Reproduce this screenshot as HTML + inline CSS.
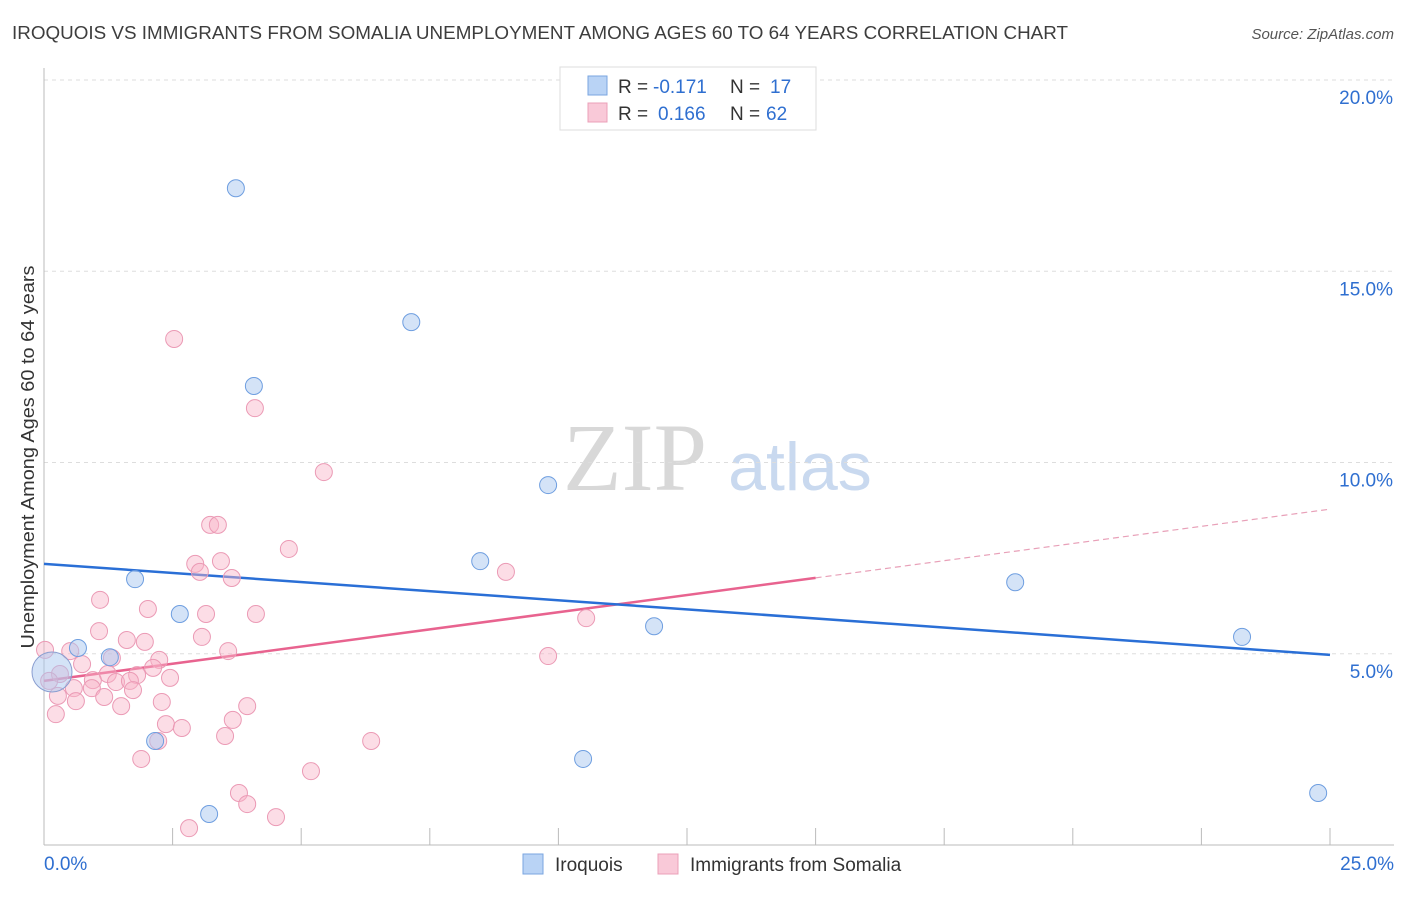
<!DOCTYPE html>
<html><head><meta charset="utf-8"><style>
body{margin:0;background:#fff;font-family:"Liberation Sans",sans-serif}
</style></head><body>
<svg width="1406" height="892" xmlns="http://www.w3.org/2000/svg">
<text x="12" y="39" font-size="18" fill="#3d3d3d" textLength="1056" lengthAdjust="spacingAndGlyphs">IROQUOIS VS IMMIGRANTS FROM SOMALIA UNEMPLOYMENT AMONG AGES 60 TO 64 YEARS CORRELATION CHART</text>
<text x="1394" y="39" font-size="15" fill="#555" text-anchor="end" font-style="italic">Source: ZipAtlas.com</text>
<text x="635" y="490" font-size="96" fill="#d8d8d8" text-anchor="middle" font-family="Liberation Serif,serif">ZIP</text>
<text x="800" y="490" font-size="68" fill="#c9d9ef" text-anchor="middle">atlas</text>
<g id="grid"></g><g id="axes"></g><g id="lines"></g><g id="pts"></g>
<text transform="translate(34,457) rotate(-90)" font-size="18" fill="#333" text-anchor="middle" textLength="383" lengthAdjust="spacingAndGlyphs">Unemployment Among Ages 60 to 64 years</text>
<g>
<rect x="560" y="67" width="256" height="63" fill="#fff" stroke="#ddd"/>
<rect x="588" y="76" width="19" height="19" fill="#b9d3f5" stroke="#7aa6e0"/>
<rect x="588" y="103" width="19" height="19" fill="#f9c9d8" stroke="#eba0b8"/>
<text x="618" y="93" font-size="19" fill="#333">R =</text>
<text x="653" y="93" font-size="19" fill="#2f6fd0">-0.171</text>
<text x="730" y="93" font-size="19" fill="#333">N =</text>
<text x="770" y="93" font-size="19" fill="#2f6fd0">17</text>
<text x="618" y="120" font-size="19" fill="#333">R =</text>
<text x="658" y="120" font-size="19" fill="#2f6fd0">0.166</text>
<text x="730" y="120" font-size="19" fill="#333">N =</text>
<text x="766" y="120" font-size="19" fill="#2f6fd0">62</text>
</g>
<g>
<rect x="523" y="854" width="20" height="20" fill="#b9d3f5" stroke="#7aa6e0"/>
<text x="555" y="871" font-size="19" fill="#333">Iroquois</text>
<rect x="658" y="854" width="20" height="20" fill="#f9c9d8" stroke="#eba0b8"/>
<text x="690" y="871" font-size="19" fill="#333">Immigrants from Somalia</text>
</g>
</svg>
<script>
const yTicks=[5,10,15,20];
const xTickLabels=["0.0%","25.0%"];
const iroX=[3.73,7.14,4.08,9.80,8.48,1.77,2.64,11.86,18.88,23.29,0.66,1.28,2.16,10.48,3.21,24.77];
const iroY=[17.17,13.67,12.0,9.41,7.42,6.95,6.04,5.72,6.87,5.44,5.15,4.91,2.72,2.25,0.81,1.36];
const somX=[2.53,4.10,5.44,3.23,3.38,4.76,2.94,3.44,3.03,3.65,8.98,1.09,2.02,3.15,4.12,10.54,1.07,1.61,1.96,3.07,3.58,9.80,0.02,0.51,1.32,2.24,0.74,2.12,0.31,1.24,1.81,2.45,0.10,0.95,1.40,1.67,0.58,0.93,1.73,0.27,1.17,0.62,2.29,3.95,1.50,0.23,3.67,2.37,2.68,3.52,6.36,1.89,5.19,3.79,3.95,4.51,2.82,2.22];
const somY=[13.23,11.42,9.75,8.37,8.37,7.74,7.35,7.42,7.14,6.98,7.14,6.41,6.17,6.04,6.04,5.93,5.59,5.36,5.31,5.44,5.07,4.94,5.10,5.07,4.89,4.84,4.73,4.63,4.47,4.47,4.44,4.37,4.29,4.31,4.26,4.29,4.10,4.10,4.05,3.90,3.87,3.76,3.74,3.63,3.63,3.42,3.27,3.16,3.06,2.85,2.72,2.25,1.93,1.36,1.07,0.73,0.44,2.72];
const iroTrend=[7.35,4.97];
const somTrend=[4.29,8.78];
const somSolidEnd=15;
const NS="http://www.w3.org/2000/svg";
const X=v=>44+v/25*1286, Y=v=>845-v/20*765;
function mk(t,a,p){const e=document.createElementNS(NS,t);for(const k in a)e.setAttribute(k,a[k]);document.getElementById(p).appendChild(e);return e;}
yTicks.forEach(t=>{
 const l=mk('line',{x1:44,x2:1394,y1:Y(t),y2:Y(t),stroke:'#ddd','stroke-dasharray':'4,4'},'grid');
 
 
 const tx=mk('text',{x:1393,y:Y(t)+24,'font-size':19,fill:'#2f6fd0','text-anchor':'end'},'grid');
 tx.textContent=t.toFixed(1)+'%';
 
 
});
mk('line',{x1:44,x2:44,y1:68,y2:845,stroke:'#bbb'},'axes');
mk('line',{x1:44,x2:1394,y1:845,y2:845,stroke:'#bbb'},'axes');
for(let i=0;i<=10;i++){const l=mk('line',{x1:X(i*2.5),x2:X(i*2.5),y1:828,y2:845,stroke:'#bbb'},'axes');
 
 }
xTickLabels.forEach((s,i)=>{const t=mk('text',{x:i?1394:44,y:870,'font-size':19,fill:'#2f6fd0','text-anchor':i?'end':'start'},'axes');t.textContent=s;
 
 });
const sl=somTrend[0]+(somTrend[1]-somTrend[0])*somSolidEnd/25;
let l1=mk('line',{x1:X(0),y1:Y(somTrend[0]),x2:X(somSolidEnd),y2:Y(sl),stroke:'#e8638f','stroke-width':2.5},'lines');


let l2=mk('line',{x1:X(somSolidEnd),y1:Y(sl),x2:X(25),y2:Y(somTrend[1]),stroke:'#e8a0b8','stroke-width':1.2,'stroke-dasharray':'6,4'},'lines');


let l3=mk('line',{x1:X(0),y1:Y(iroTrend[0]),x2:X(25),y2:Y(iroTrend[1]),stroke:'#2a6fd6','stroke-width':2.5},'lines');


somX.forEach((v,i)=>{const c=mk('circle',{cx:X(v),cy:Y(somY[i]),r:8.5,fill:'rgba(248,180,200,0.45)',stroke:'#eb9ab5','stroke-width':1},'pts');
 
 });
const big=mk('circle',{cx:52,cy:672,r:20,fill:'rgba(170,200,240,0.5)',stroke:'#8a9ed0','stroke-width':1},'pts');


iroX.forEach((v,i)=>{const c=mk('circle',{cx:X(v),cy:Y(iroY[i]),r:8.5,fill:'rgba(170,200,240,0.5)',stroke:'#6e9ee0','stroke-width':1},'pts');
 
 });
</script>
</body></html>
